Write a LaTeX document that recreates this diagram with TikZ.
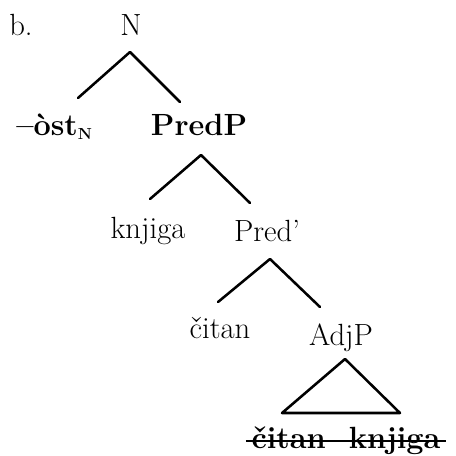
\documentclass[tikz,border=0pt]{standalone}
\usetikzlibrary{calc}

\tikzset{
  lbl/.style={anchor=base, inner sep=0.75pt, font=\fontsize{23}{27}\selectfont},
  bflbl/.style={lbl, font=\fontsize{23}{27}\selectfont\bfseries},
  branch/.style={line width=1.9pt, line cap=round, line join=round},
  strike/.style={line width=1.3pt}
}

\begin{document}
\begin{tikzpicture}[x=0.75pt,y=0.75pt,yscale=-1,xscale=1]
		\useasboundingbox (0,0) rectangle (456,455);
		
		% Text Node
		\node [lbl, anchor=base west] (ex) at (8,35) {b.};
		% Text Node
		\node [lbl] (N) at (131,35) {N};
		% Text Node
		\node [bflbl, anchor=base west] (ost) at (15,135) {–òst\raisebox{-3pt}{\fontsize{12}{12}\selectfont N}};
		% Text Node
		\node [bflbl] (PredP) at (199,135) {PredP};
		% Text Node
		\node [lbl] (knjiga) at (148,238) {knjiga};
		% Text Node
		\node [lbl] (Predbar) at (267,241) {Pred’};
		% Text Node
		\node [lbl] (citan) at (220,338) {čitan};
		% Text Node
		\node [lbl] (AdjP) at (341,345) {AdjP};
		% Text Node
		\node [bflbl, inner xsep=4pt] (trace) at (346,448) {čitan\ \ knjiga};
		
		%Straight Lines: N
		\draw [branch] ($(ost.base west)+(63,-37)$) -- ($(N.base)+(-1,17)$) -- ($(PredP.base)+(-19,-33)$);
		%Straight Lines: PredP
		\draw [branch] ($(knjiga.base)+(2,-39)$) -- ($(PredP.base)+(2,20)$) -- ($(Predbar.base)+(-17,-38)$);
		%Straight Lines: Pred'
		\draw [branch] ($(citan.base)+(-2,-36)$) -- ($(Predbar.base)+(3,18)$) -- ($(AdjP.base)+(-21,-38)$);
		%Shape: Triangle
		\draw [branch] ($(AdjP.base)+(4,14)$) -- ($(trace.base)+(-64,-35)$) -- ($(trace.base)+(54,-35)$) -- cycle;
		%Straight Lines: strike-through
		\draw [strike] ($(trace.base west)+(0,-7)$) -- ($(trace.base east)+(0,-7)$);
\end{tikzpicture}
\end{document}
